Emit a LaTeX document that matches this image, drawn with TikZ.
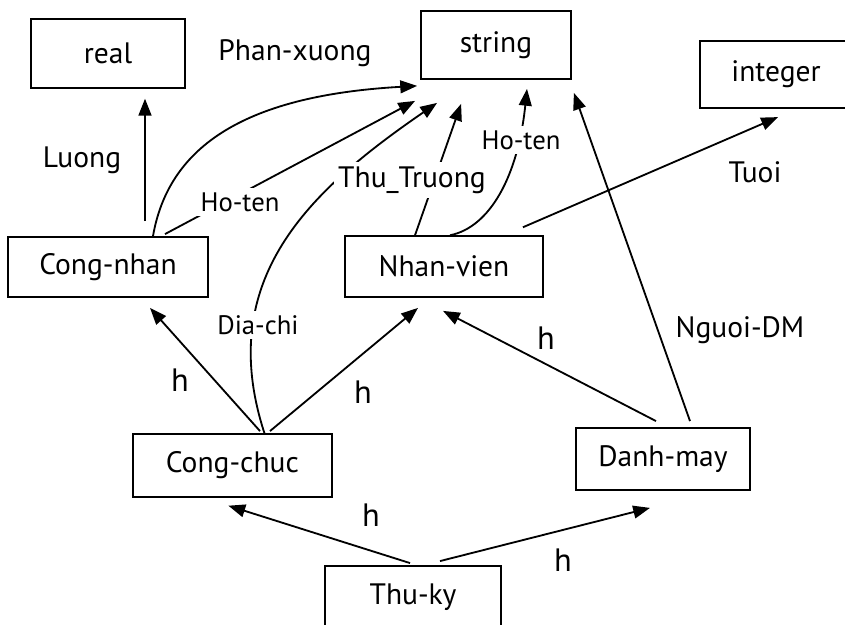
\documentclass[tikz,border=0pt]{standalone}
\usepackage{fontspec}
\setmainfont{PT Sans}
\usetikzlibrary{arrows.meta}

\tikzset{
  box/.style={draw, line width=1.3pt, font=\fontsize{21}{23}\selectfont},
  lbl/.style={fill=white, inner sep=3pt, font=\fontsize{21}{23}\selectfont},
  slbl/.style={lbl, font=\fontsize{19}{21}\selectfont},
  hlbl/.style={inner sep=1pt, font=\fontsize{23}{25}\selectfont},
  arr/.style={line width=1.3pt, -{Triangle[length=4.2mm,width=3.2mm]}},
}

\begin{document}
\begin{tikzpicture}
\useasboundingbox (0,0) rectangle (21.125,15.625);

%% classes
\node[box, minimum width=3.85cm, minimum height=1.72cm] (real) at (2.7,14.29) {real};
\node[box, minimum width=3.75cm, minimum height=1.7cm] (string) at (12.4,14.5) {string};
\node[box, minimum width=3.8cm, minimum height=1.68cm] (integer) at (19.4,13.76) {integer};
\node[box, minimum width=5cm, minimum height=1.5cm] (congnhan) at (2.7,8.95) {Cong-nhan};
\node[box, minimum width=4.95cm, minimum height=1.52cm] (nhanvien) at (11.1,8.96) {Nhan-vien};
\node[box, minimum width=4.97cm, minimum height=1.57cm] (congchuc) at (5.81,3.99) {Cong-chuc};
\node[box, minimum width=4.35cm, minimum height=1.55cm] (danhmay) at (16.575,4.15) {Danh-may};
\node[box, minimum width=4.4cm, minimum height=1.55cm] (thuky) at (10.325,0.7) {Thu-ky};

%% attributes
\draw[arr] ([xshift=0.925cm,yshift=0.375cm]congnhan.north) -- ([xshift=0.925cm,yshift=-0.25cm]real.south);   %% Luong
\draw[arr] ([xshift=1.125cm]congnhan.north) .. controls +(0.375,2.15) and +(-4.45,-0.25) .. ([xshift=-0.075cm,yshift=-0.15cm]string.south west);   %% Phan-xuong
\draw[arr] ([xshift=1.425cm,yshift=0.05cm]congnhan.north) -- ([xshift=-0.125cm,yshift=-0.525cm]string.south west);   %% Ho-ten
\draw[arr] ([xshift=0.8cm]congchuc.north) .. controls +(-1.25,3.85) and +(-3.2,-2.2) .. ([xshift=0.425cm,yshift=-0.575cm]string.south west);   %% Dia-chi
\draw[arr] ([xshift=-0.725cm]nhanvien.north) -- ([xshift=1.025cm,yshift=-0.6cm]string.south west);   %% Thu_Truong
\draw[arr] ([xshift=0.15cm]nhanvien.north) .. controls +(1,0.2) and +(-0.225,-2.175) .. ([xshift=0.775cm,yshift=-0.225cm]string.south);   %% Ho-ten
\draw[arr] ([xshift=-0.525cm,yshift=0.2cm]nhanvien.north east) -- ([xshift=0.05cm,yshift=-0.2cm]integer.south);   %% Tuoi
\draw[arr] ([xshift=0.675cm,yshift=0.15cm]danhmay.north) -- ([xshift=0.05cm,yshift=-0.325cm]string.south east);   %% Nguoi-DM

%% inheritance
\draw[arr] ([xshift=0.69cm,yshift=0.05cm]congchuc.north) -- ([xshift=1.05cm,yshift=-0.25cm]congnhan.south);
\draw[arr] ([xshift=0.94cm,yshift=0.05cm]congchuc.north) -- ([xshift=-0.65cm,yshift=-0.25cm]nhanvien.south);
\draw[arr] ([xshift=-0.175cm,yshift=0.15cm]danhmay.north) -- ([xshift=-0.025cm,yshift=-0.325cm]nhanvien.south);
\draw[arr] ([xshift=-0.075cm,yshift=0.05cm]thuky.north) -- ([xshift=-0.1cm,yshift=-0.2cm]congchuc.south);
\draw[arr] ([xshift=0.675cm,yshift=0.1cm]thuky.north) -- ([xshift=-0.325cm,yshift=-0.425cm]danhmay.south);

%% labels
\node[lbl] (luong) at (2.05,11.625) {Luong};
\node[lbl] (phanxuong) at (7.375,14.3) {Phan-xuong};
\node[slbl] (hoten) at (6.0,10.575) {Ho-ten};
\node[slbl] (diachi) at (6.45,7.5) {Dia-chi};
\node[lbl] (thutruong) at (10.3,11.125) {Thu\_Truong};
\node[slbl] (hoten2) at (13.025,12.125) {Ho-ten};
\node[lbl] (tuoi) at (18.875,11.325) {Tuoi};
\node[lbl] (nguoidm) at (18.5,7.375) {Nguoi-DM};

\node[hlbl] (h1) at (4.5,6.125) {h};
\node[hlbl] (h2) at (9.075,5.825) {h};
\node[hlbl] (h3) at (13.65,7.175) {h};
\node[hlbl] (h4) at (9.275,2.75) {h};
\node[hlbl] (h5) at (14.075,1.625) {h};
\end{tikzpicture}
\end{document}
